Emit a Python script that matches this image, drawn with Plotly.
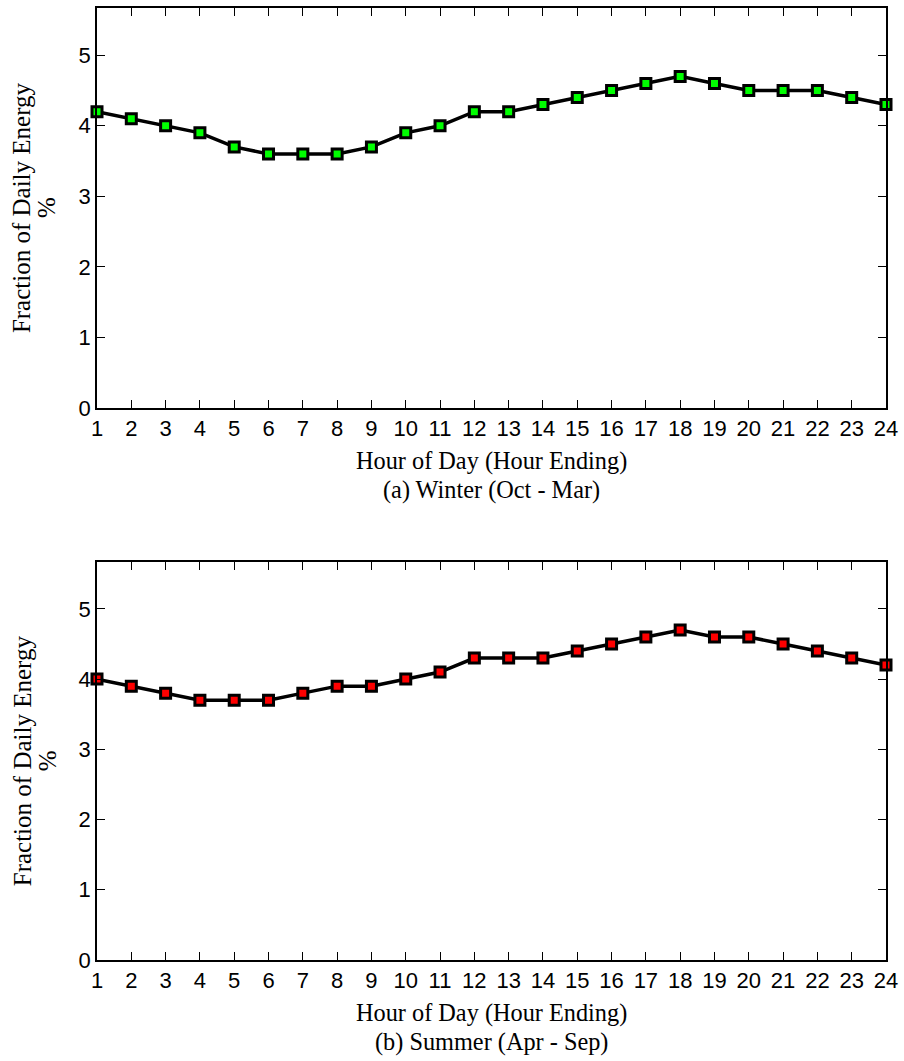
import plotly.graph_objects as go
from plotly.subplots import make_subplots

hours = list(range(1, 25))
winter = [4.2, 4.1, 4.0, 3.9, 3.7, 3.6, 3.6, 3.6, 3.7, 3.9, 4.0, 4.2,
          4.2, 4.3, 4.4, 4.5, 4.6, 4.7, 4.6, 4.5, 4.5, 4.5, 4.4, 4.3]
summer = [4.0, 3.9, 3.8, 3.7, 3.7, 3.7, 3.8, 3.9, 3.9, 4.0, 4.1, 4.3,
          4.3, 4.3, 4.4, 4.5, 4.6, 4.7, 4.6, 4.6, 4.5, 4.4, 4.3, 4.2]
y_ticks = [0, 1, 2, 3, 4, 5]
x_title = "Hour of Day (Hour Ending)"
captions = ["(a) Winter (Oct - Mar)", "(b) Summer (Apr - Sep)"]
y_title1 = "Fraction of Daily Energy"
y_title2 = "%"

W, H = 904, 1061
ml, mr, mt, mb = 97, 16, 6, 101
ph = H - mt - mb
pw = W - ml - mr

def py(pix):
    return (H - mb - pix) / ph

def px(pix):
    return (pix - ml) / pw

fig = make_subplots(rows=2, cols=1)
for i, (vals, col) in enumerate([(winter, "#00FF00"), (summer, "#FF0000")]):
    fig.add_trace(go.Scatter(
        x=hours, y=vals, mode="lines+markers",
        line=dict(color="black", width=3.5),
        marker=dict(symbol="square", size=10, color=col,
                    line=dict(color="black", width=3)),
        cliponaxis=False, showlegend=False), row=i + 1, col=1)

axis_common = dict(showline=True, linecolor="black", linewidth=1.5, mirror="allticks",
                   ticks="inside", ticklen=8, tickcolor="black", tickwidth=1,
                   showgrid=False, zeroline=False,
                   tickfont=dict(family="Liberation Sans, Arial", size=22, color="black"))
top_dom = [py(406.7), 1.0]
bot_dom = [0.0, py(561)]
fig.update_layout(
    xaxis=dict(range=[1, 24], tickvals=hours, domain=[0, 1], **axis_common),
    xaxis2=dict(range=[1, 24], tickvals=hours, domain=[0, 1], **axis_common),
    yaxis=dict(range=[0, 5.67], tickvals=y_ticks, domain=top_dom, **axis_common),
    yaxis2=dict(range=[0, 5.67], tickvals=y_ticks, domain=bot_dom, **axis_common),
    width=W, height=H, margin=dict(l=ml, r=mr, t=mt, b=mb),
    plot_bgcolor="white", paper_bgcolor="white",
)

xfont = dict(family="Liberation Serif, Times New Roman", size=24.3, color="black")
yfont = dict(family="Liberation Serif, Times New Roman", size=25, color="black")
anns = []
for i, (top_pix, bot_pix, cap) in enumerate([(6, 406.7, captions[0]), (561, 960.3, captions[1])]):
    anns.append(dict(text=x_title, x=0.5, y=py(bot_pix + 53), xref="paper", yref="paper",
                     xanchor="center", yanchor="middle", showarrow=False, font=xfont))
    anns.append(dict(text=cap, x=0.5, y=py(bot_pix + 82), xref="paper", yref="paper",
                     xanchor="center", yanchor="middle", showarrow=False, font=xfont))
    mid = (top_pix + bot_pix) / 2
    anns.append(dict(text=y_title1, x=px(22), y=py(mid), xref="paper", yref="paper",
                     xanchor="center", yanchor="middle", textangle=-90, showarrow=False, font=yfont))
    anns.append(dict(text=y_title2, x=px(47), y=py(mid), xref="paper", yref="paper",
                     xanchor="center", yanchor="middle", textangle=-90, showarrow=False, font=yfont))
fig.update_layout(annotations=anns)

fig.write_html("out.html")
